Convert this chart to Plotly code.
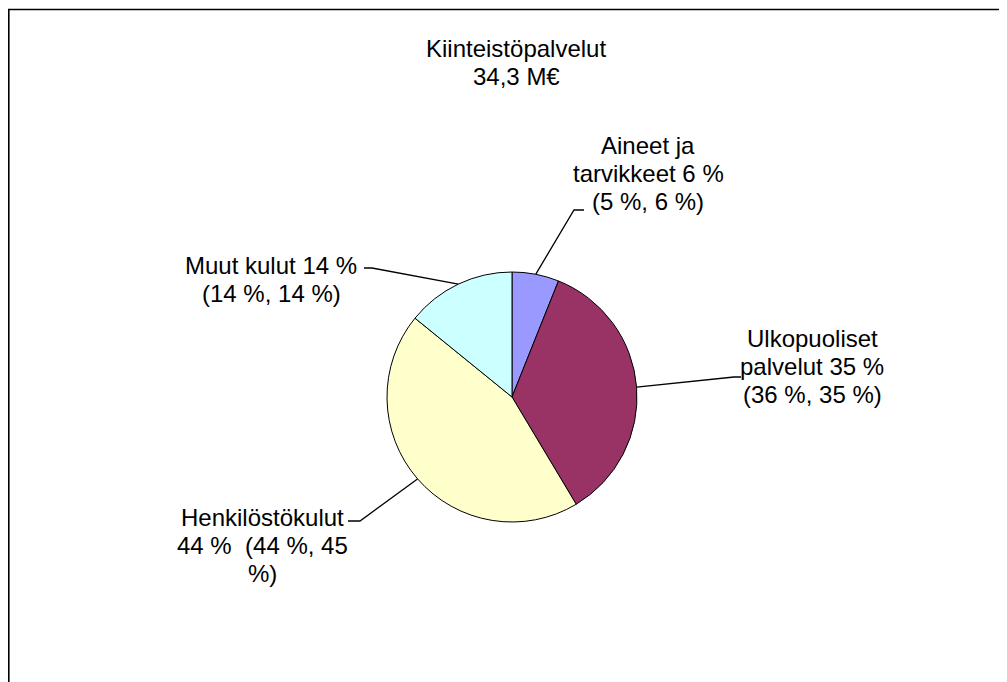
import math
import plotly.graph_objects as go

W, H = 1007, 682

# ---- data ----
categories = ["Aineet ja tarvikkeet", "Ulkopuoliset palvelut", "Henkilöstökulut", "Muut kulut"]
values = [6, 35, 44, 14]
colors = ["#9999FF", "#993366", "#FFFFCC", "#CCFFFF"]
label_lines = [
    ["Aineet ja", "tarvikkeet 6 %", "(5 %, 6 %)"],
    ["Ulkopuoliset", "palvelut 35 %", "(36 %, 35 %)"],
    ["Henkilöstökulut", "44 %  (44 %, 45", "%)"],
    ["Muut kulut 14 %", "(14 %, 14 %)"],
]
title_lines = ["Kiinteistöpalvelut", "34,3 M€"]

# ---- layout (screen pixel positions) ----
OFF = 8  # page body margin: figure starts at screen (8, 8)
CX, CY, R = 512, 397, 125
FONT = "Liberation Sans, Arial, sans-serif"
FS = 24
LS = 28  # line spacing px
label_pos = [(648, 145), (812, 338), (262, 517), (271, 265)]
elbows = [((574, 210), 584), ((734, 377), 741), ((360, 521), 348), ((372, 268), 364)]

fig = go.Figure()
fig.add_trace(go.Pie(
    labels=categories, values=values, sort=False, direction="clockwise", rotation=0,
    marker=dict(colors=colors, line=dict(color="#000000", width=1)),
    textinfo="none", hoverinfo="label+percent", showlegend=False,
    domain=dict(x=[(CX - R - OFF) / W, (CX + R - OFF) / W],
                y=[1 - (CY + R - OFF) / H, 1 - (CY - R - OFF) / H]),
))

shapes = []
# outer frame (left/top edges visible)
shapes.append(dict(type="rect", xref="x", yref="y", x0=OFF + 0.8, y0=9.5, x1=W + 30, y1=H + 30,
                   line=dict(color="#000000", width=1.6), fillcolor="rgba(0,0,0,0)"))

total = sum(values)
cum = 0
for i, v in enumerate(values):
    mid = (cum + v / 2) / total * 2 * math.pi
    cum += v
    ex = CX + R * math.sin(mid)
    ey = CY - R * math.cos(mid)
    (bx, by), sx = elbows[i]
    shapes.append(dict(type="path", xref="x", yref="y",
                       path=f"M {ex:.1f},{ey:.1f} L {bx},{by} L {sx},{by}",
                       line=dict(color="#000000", width=1.3)))

annotations = []
def add_lines(lines, x, y0):
    for k, t in enumerate(lines):
        annotations.append(dict(text=t, x=x, y=y0 + k * LS, xref="x", yref="y",
                                showarrow=False, xanchor="center", yanchor="middle",
                                font=dict(family=FONT, size=FS, color="#000000")))

add_lines(title_lines, 516, 48)
for lines, (lx, ly) in zip(label_lines, label_pos):
    add_lines(lines, lx, ly)

fig.update_layout(
    width=W, height=H, margin=dict(l=0, r=0, t=0, b=0),
    paper_bgcolor="#FFFFFF", plot_bgcolor="rgba(0,0,0,0)",
    xaxis=dict(range=[OFF, W + OFF], visible=False, fixedrange=True),
    yaxis=dict(range=[H + OFF, OFF], visible=False, fixedrange=True),
    shapes=shapes, annotations=annotations,
)
fig.write_html("out.html")
